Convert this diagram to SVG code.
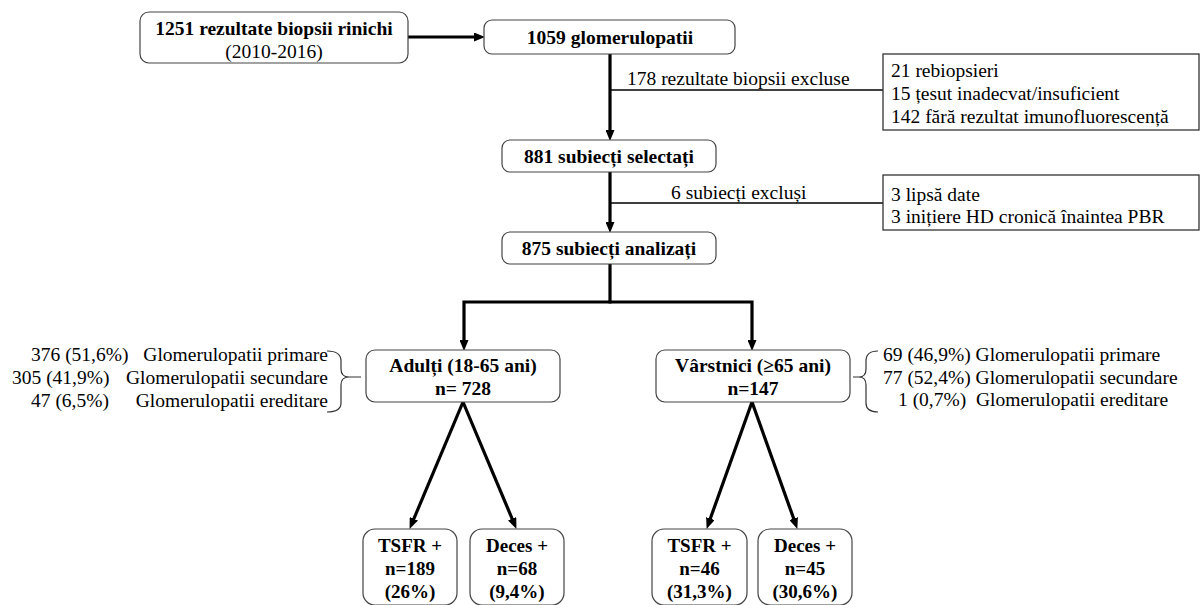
<svg xmlns="http://www.w3.org/2000/svg" width="1203" height="605" viewBox="0 0 1203 605">
<defs>
<marker id="ah" markerUnits="userSpaceOnUse" markerWidth="11" markerHeight="9" refX="4" refY="4.5" orient="auto">
<path d="M0,0 L11,4.5 L0,9 z" fill="#000"/>
</marker>
<style>
text{font-family:"Liberation Serif","Times New Roman",serif;font-size:19.5px;fill:#000}
.b{font-weight:bold}
.m{text-anchor:middle}
.e{text-anchor:end}
.sm{font-size:19px}
.rb{fill:#fff;stroke:#444;stroke-width:1.2}
.xb{fill:#fff;stroke:#333;stroke-width:1.3}
.thick{fill:none;stroke:#000;stroke-width:3.2}
.thin{fill:none;stroke:#000;stroke-width:1.6}
.br{fill:none;stroke:#333;stroke-width:1.2}
</style>
</defs>
<rect width="1203" height="605" fill="#fff"/>
<g id="connectors">
<path class="thick" d="M408,37 H478" marker-end="url(#ah)"/>
<path class="thick" d="M610,54 V134" marker-end="url(#ah)"/>
<path class="thin" d="M610,90 H883"/>
<path class="thick" d="M610,172 V226" marker-end="url(#ah)"/>
<path class="thin" d="M610,203 H883"/>
<path class="thick" d="M610,264 V302"/>
<path class="thick" d="M611.5,302 H464 V344" marker-end="url(#ah)"/>
<path class="thick" d="M608.5,302 H752 V344" marker-end="url(#ah)"/>
<path class="thick" d="M463,402 L412.3,522.5" marker-end="url(#ah)"/>
<path class="thick" d="M463,402 L513.7,522.5" marker-end="url(#ah)"/>
<path class="thick" d="M752,402 L709,522.3" marker-end="url(#ah)"/>
<path class="thick" d="M752,402 L795,522.3" marker-end="url(#ah)"/>
<text x="627" y="85">178 rezultate biopsii excluse</text>
<text x="671" y="199">6 subiecți excluși</text>
</g>
<g id="n1">
<rect class="rb" x="140" y="12" width="268" height="51" rx="9"/>
<text class="b m" x="274" y="35">1251 rezultate biopsii rinichi</text>
<text class="m" x="274" y="58">(2010-2016)</text>
</g>
<g id="n2">
<rect class="rb" x="484" y="20" width="251" height="34" rx="8"/>
<text class="b m" x="610" y="44">1059 glomerulopatii</text>
</g>
<g id="excl1">
<rect class="xb" x="883" y="54" width="316" height="76"/>
<text x="891" y="77">21 rebiopsieri</text>
<text x="891" y="100">15 țesut inadecvat/insuficient</text>
<text x="891" y="123">142 fără rezultat imunofluorescență</text>
</g>
<g id="n3">
<rect class="rb" x="502" y="140" width="214" height="32" rx="8"/>
<text class="b m" x="609" y="163">881 subiecți selectați</text>
</g>
<g id="excl2">
<rect class="xb" x="883" y="175" width="316" height="55"/>
<text x="891" y="201">3 lipsă date</text>
<text x="891" y="223">3 inițiere HD cronică înaintea PBR</text>
</g>
<g id="n4">
<rect class="rb" x="502" y="232" width="214" height="32" rx="8"/>
<text class="b m" x="609" y="255">875 subiecți analizați</text>
</g>
<g id="adulti">
<rect class="rb" x="366" y="350" width="194" height="52" rx="9"/>
<text class="b m" x="463" y="372">Adulți (18-65 ani)</text>
<text class="b m" x="463" y="395">n= 728</text>
</g>
<g id="adulti-detalii">
<text x="31" y="361">376 (51,6%)</text>
<text x="12" y="384">305 (41,9%)</text>
<text x="31" y="407">47 (6,5%)</text>
<text class="e" x="328" y="361">Glomerulopatii primare</text>
<text class="e" x="328" y="384">Glomerulopatii secundare</text>
<text class="e" x="328" y="407">Glomerulopatii ereditare</text>
<path class="br" d="M327,351 Q341,351 341,361 L341,369 Q341,377 349,377 L361,377 M349,377 Q341,377 341,385 L341,403 Q341,412 327,412"/>
</g>
<g id="varstnici">
<rect class="rb" x="656" y="350" width="194" height="52" rx="9"/>
<text class="b m" x="753" y="372">Vârstnici (≥65 ani)</text>
<text class="b m" x="753" y="395">n=147</text>
</g>
<g id="varstnici-detalii">
<path class="br" d="M878,351 Q866,351 866,361 L866,369 Q866,377 859,377 L853,377 M859,377 Q866,377 866,385 L866,403 Q866,412 878,412"/>
<text x="883" y="361">69 (46,9%) Glomerulopatii primare</text>
<text x="883" y="384">77 (52,4%) Glomerulopatii secundare</text>
<text x="898" y="406">1 (0,7%) <tspan x="976">Glomerulopatii ereditare</tspan></text>
</g>
<g id="tsfr-adulti">
<rect class="rb" x="363" y="529" width="94" height="76" rx="12"/>
<text class="b m sm" x="410" y="552">TSFR +</text>
<text class="b m sm" x="410" y="575">n=189</text>
<text class="b m sm" x="410" y="598">(26%)</text>
</g>
<g id="deces-adulti">
<rect class="rb" x="470" y="529" width="94" height="76" rx="12"/>
<text class="b m sm" x="517" y="552">Deces +</text>
<text class="b m sm" x="517" y="575">n=68</text>
<text class="b m sm" x="517" y="598">(9,4%)</text>
</g>
<g id="tsfr-varstnici">
<rect class="rb" x="652" y="529" width="95" height="76" rx="12"/>
<text class="b m sm" x="699.5" y="552">TSFR +</text>
<text class="b m sm" x="699.5" y="575">n=46</text>
<text class="b m sm" x="699.5" y="598">(31,3%)</text>
</g>
<g id="deces-varstnici">
<rect class="rb" x="758" y="529" width="94" height="76" rx="12"/>
<text class="b m sm" x="805" y="552">Deces +</text>
<text class="b m sm" x="805" y="575">n=45</text>
<text class="b m sm" x="805" y="598">(30,6%)</text>
</g>
</svg>
